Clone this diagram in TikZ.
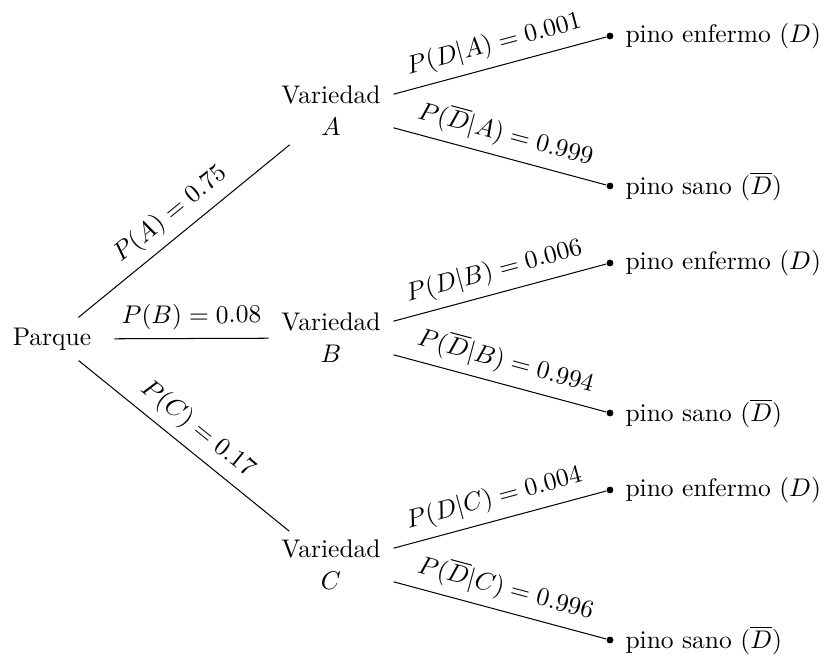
\documentclass[tikz,border=0pt]{standalone}
\begin{document}
\begin{tikzpicture}[x=0.3922pt,y=-0.3922pt,
  lvl/.style={minimum width=48.6pt, inner sep=3.33pt},
  var/.style={lvl, align=center},
  leafdot/.style={circle, fill, inner sep=0pt, minimum size=2.7pt},
  lab/.style={label distance=1.0pt},
  prob/.style={midway, above, sloped}]
\useasboundingbox (0,0) rectangle (828,656);
% level 0 and 1
\node[lvl, minimum height=16.5pt] (P) at (52,339) {Parque};
\node[var] (A) at (331,111) {Variedad\\[0.5pt]$A$};
\node[var] (B) at (331,338) {Variedad\\[0.5pt]$B$};
\node[var] (C) at (331,565) {Variedad\\[0.5pt]$C$};
% leaves
\node[leafdot, label={[lab]right:pino enfermo ($D$)}] (A1) at (610,36) {};
\node[leafdot, label={[lab]right:pino sano ($\overline{D}$)}] (A2) at (610,186) {};
\node[leafdot, label={[lab]right:pino enfermo ($D$)}] (B1) at (610,263) {};
\node[leafdot, label={[lab]right:pino sano ($\overline{D}$)}] (B2) at (610,413) {};
\node[leafdot, label={[lab]right:pino enfermo ($D$)}] (C1) at (610,490) {};
\node[leafdot, label={[lab]right:pino sano ($\overline{D}$)}] (C2) at (610,640) {};
% edges
\draw (P) -- node[prob] {$P(A) = 0.75$} (A);
\draw (P) -- node[prob] {$P(B) = 0.08$} (B);
\draw (P) -- node[prob] {$P(C) = 0.17$} (C);
\draw (A) -- node[prob] {$P(D|A) = 0.001$} (A1);
\draw (A) -- node[prob] {$P(\overline{D}|A) = 0.999$} (A2);
\draw (B) -- node[prob] {$P(D|B) = 0.006$} (B1);
\draw (B) -- node[prob] {$P(\overline{D}|B) = 0.994$} (B2);
\draw (C) -- node[prob] {$P(D|C) = 0.004$} (C1);
\draw (C) -- node[prob] {$P(\overline{D}|C) = 0.996$} (C2);
\end{tikzpicture}
\end{document}
